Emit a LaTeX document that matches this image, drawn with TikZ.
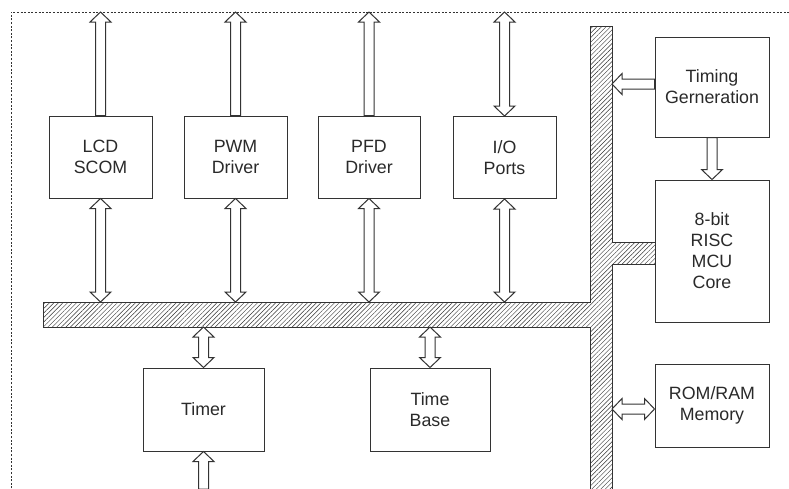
\documentclass[tikz,border=0pt]{standalone}
\usepackage{fontspec}
\setmainfont{Liberation Sans}
\usetikzlibrary{calc,patterns.meta}

\definecolor{linec}{HTML}{333333}
\definecolor{textc}{HTML}{2A2A2A}

\tikzset{
  block/.style={draw=linec, line width=1pt, fill=white, align=center, text=textc,
    font=\fontsize{17.8}{21}\selectfont, inner sep=0pt},
  blockarrow/.style={draw=linec, line width=1pt, fill=white, line join=miter},
  bus/.style={draw=linec, line width=1pt,
    pattern={Lines[angle=45,distance=3.2pt,line width=0.45pt]}, pattern color=linec}
}

% block arrow, tail at #1, head at #2
\newcommand\onearrow[2]{%
  \coordinate (hd) at ($(#2)!10pt!(#1)$);
  \draw[blockarrow] ($(#1)!5pt!90:(#2)$) -- ($(hd)!5pt!-90:(#1)$) -- ($(hd)!10.5pt!-90:(#1)$)
    -- (#2) -- ($(hd)!10.5pt!90:(#1)$) -- ($(hd)!5pt!90:(#1)$) -- ($(#1)!5pt!-90:(#2)$) -- cycle;}
% block arrow, heads at both ends
\newcommand\twoarrow[2]{%
  \coordinate (hd) at ($(#2)!10pt!(#1)$);
  \coordinate (tl) at ($(#1)!10pt!(#2)$);
  \draw[blockarrow] (#1) -- ($(tl)!10.5pt!90:(#2)$) -- ($(tl)!5pt!90:(#2)$)
    -- ($(hd)!5pt!-90:(#1)$) -- ($(hd)!10.5pt!-90:(#1)$) -- (#2)
    -- ($(hd)!10.5pt!90:(#1)$) -- ($(hd)!5pt!90:(#1)$)
    -- ($(tl)!5pt!-90:(#2)$) -- ($(tl)!10.5pt!-90:(#2)$) -- cycle;}

\begin{document}
\begin{tikzpicture}[x=1pt,y=-1pt]
	\useasboundingbox[fill=white] (0,0) rectangle (789,488);
	
	% frame
	\draw[linec, line width=0.9pt, dash pattern=on 2pt off 1.6pt] (11,492) -- (11,12) -- (792,12);
	\coordinate (frametop) at (0,12);
	\coordinate (busN) at (0,302);
	\coordinate (busS) at (0,327);
	\coordinate (busR) at (612,0);
	\coordinate (pagebot) at (0,489);
	
	% bus
	\draw[bus] (43,302) -- (590,302) -- (590,26) -- (612,26) -- (612,242) -- (656,242)
		-- (656,264) -- (612,264) -- (612,494) -- (590,494) -- (590,327) -- (43,327) -- cycle;
	
	\node[block, minimum width=103, minimum height=82] (lcd) at (100.5,157) {LCD\\SCOM};
	\node[block, minimum width=103, minimum height=82] (pwm) at (235.5,157) {PWM\\Driver};
	\node[block, minimum width=102, minimum height=82] (pfd) at (369,157) {PFD\\Driver};
	\node[block, minimum width=103, minimum height=82] (io) at (504.5,157.5) {I/O\\Ports};
	
	\node[block, minimum width=114, minimum height=100] (timing) at (712,87) {Timing\\Gerneration};
	\node[block, minimum width=114, minimum height=142] (mcu) at (712,251) {8-bit\\RISC\\MCU\\Core};
	\node[block, minimum width=114, minimum height=83] (rom) at (712,405.5) {ROM/RAM\\Memory};
	
	\node[block, minimum width=121, minimum height=83] (timer) at (203.5,409.5) {Timer};
	\node[block, minimum width=120, minimum height=83] (tbase) at (430,409.5) {Time\\Base};
	
	\onearrow{lcd.north}{lcd.north |- frametop}
	\onearrow{pwm.north}{pwm.north |- frametop}
	\onearrow{pfd.north}{pfd.north |- frametop}
	\twoarrow{io.north}{io.north |- frametop}
	
	\twoarrow{lcd.south}{lcd.south |- busN}
	\twoarrow{pwm.south}{pwm.south |- busN}
	\twoarrow{pfd.south}{pfd.south |- busN}
	\twoarrow{io.south}{io.south |- busN}
	
	\twoarrow{timer.north}{timer.north |- busS}
	\twoarrow{tbase.north}{tbase.north |- busS}
	\onearrow{timer.south |- pagebot}{timer.south}
	
	\onearrow{[yshift=3pt]timing.west}{[yshift=3pt]timing.west -| busR}
	\onearrow{timing.south}{mcu.north}
	\twoarrow{[yshift=-3.5pt]rom.west -| busR}{[yshift=-3.5pt]rom.west}
\end{tikzpicture}
\end{document}
